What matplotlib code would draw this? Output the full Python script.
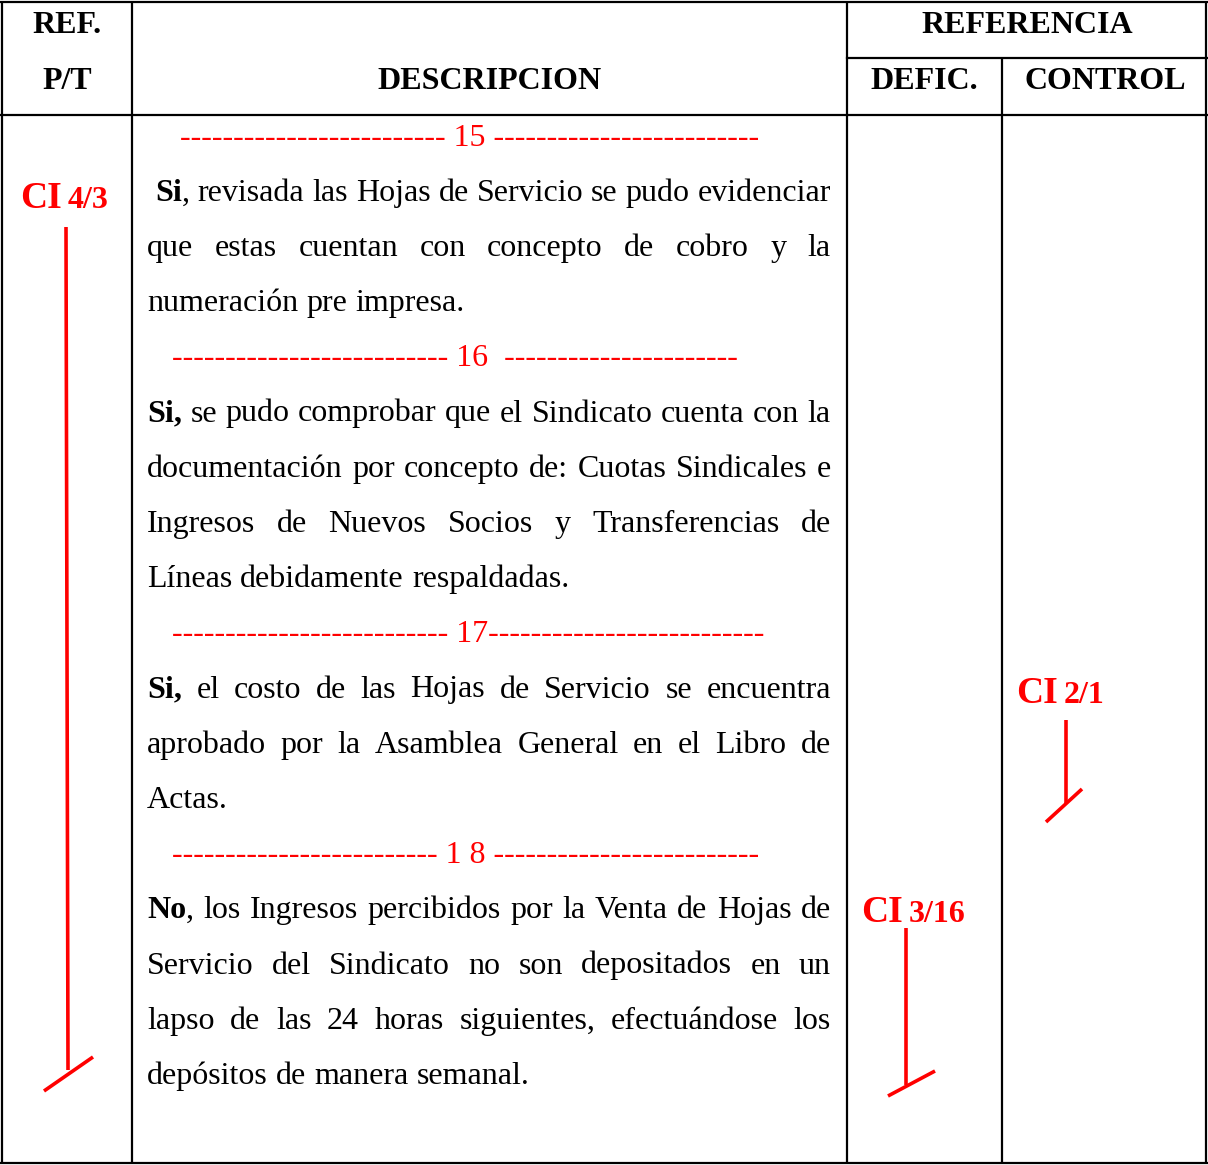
import matplotlib
matplotlib.use("Agg")
import matplotlib.pyplot as plt

W, H = 1208, 1165
FONT = "Liberation Serif"
RED = "#ff0000"
FS = 23

# ---- content ----
header_row1 = ["REF.", "REFERENCIA"]
header_row2 = ["P/T", "DESCRIPCION", "DEFIC.", "CONTROL"]

# kind: sep (red separator), just (justified), left (last line of paragraph)
body_kind = ["sep", "just", "just", "left",
             "sep", "just", "just", "just", "left",
             "sep", "just", "just", "left",
             "sep", "just", "just", "just", "left"]
body_text = [
    "------------------------- 15 -------------------------",
    "**Si**, revisada las Hojas de Servicio se pudo evidenciar",
    "que estas cuentan con concepto de cobro y la",
    "numeración pre impresa.",
    "-------------------------- 16  ----------------------",
    "**Si,** se pudo comprobar que el Sindicato cuenta con la",
    "documentación por concepto de: Cuotas Sindicales e",
    "Ingresos de Nuevos Socios y Transferencias de",
    "Líneas debidamente respaldadas.",
    "-------------------------- 17--------------------------",
    "**Si,** el costo de las Hojas de Servicio se encuentra",
    "aprobado por la Asamblea General en el Libro de",
    "Actas.",
    "------------------------- 1 8 -------------------------",
    "**No**, los Ingresos percibidos por la Venta de Hojas de",
    "Servicio del Sindicato no son depositados en un",
    "lapso de las 24 horas siguientes, efectuándose los",
    "depósitos de manera semanal.",
]
body_x = [180, 155, 147, 147, 172, 147, 147, 147, 147,
          172, 147, 147, 147, 172, 147, 147, 147, 147]

marks_big = ["CI", "CI", "CI"]
marks_small = ["4/3", "2/1", "3/16"]

# ---- layout ----
fig = plt.figure(figsize=(W / 100, H / 100), dpi=100)
ax = fig.add_axes([0, 0, 1, 1])
ax.set_xlim(0, W)
ax.set_ylim(H, 0)
ax.axis("off")

col_x = [2, 132, 847, 1002, 1206]
top, mid, hdr_bot, bot = 2, 58, 115, 1163
lw = 1.6
for x in col_x:
    if x == 1002:
        ax.plot([x, x], [mid, bot], color="black", lw=lw, solid_capstyle="butt")
    else:
        ax.plot([x, x], [top, bot], color="black", lw=lw, solid_capstyle="butt")
ax.plot([0, W], [top, top], color="black", lw=lw)
ax.plot([0, W], [bot, bot], color="black", lw=lw)
ax.plot([0, W], [hdr_bot, hdr_bot], color="black", lw=lw)
ax.plot([847, W], [mid, mid], color="black", lw=lw)

hkw = dict(fontfamily=FONT, fontsize=FS, fontweight="bold", ha="center",
           va="baseline", color="black")
ax.text(67, 33, header_row1[0], **hkw)
ax.text(1027, 33, header_row1[1], **hkw)
row2_x = [67, 490, 924, 1105]
for x, t in zip(row2_x, header_row2):
    ax.text(x, 89, t, **hkw)

fig.canvas.draw()
renderer = fig.canvas.get_renderer()


def parse_word(word):
    parts = word.split("**")
    pieces = []
    bold = False
    for i, p in enumerate(parts):
        if i > 0:
            bold = not bold
        if p:
            pieces.append((p, bold))
    return pieces


def text_width(s, bold):
    t = ax.text(0, 0, s, fontfamily=FONT, fontsize=FS,
                fontweight="bold" if bold else "normal")
    w = t.get_window_extent(renderer).width
    t.remove()
    return w


space_w = text_width("a b", False) - text_width("ab", False)
right_edge = 831
y0, step = 145.5, 55.2
for i, (kind, txt, x0) in enumerate(zip(body_kind, body_text, body_x)):
    y = y0 + i * step
    if kind == "sep":
        ax.text(x0, y, txt, fontfamily=FONT, fontsize=FS, color=RED,
                ha="left", va="baseline")
        continue
    words = [parse_word(w) for w in txt.split()]
    widths = [[text_width(p, b) for p, b in w] for w in words]
    totals = [sum(ws) for ws in widths]
    if kind == "just" and len(words) > 1:
        gap = (right_edge - x0 - sum(totals)) / (len(words) - 1)
    else:
        gap = space_w
    x = x0
    for w, ws, tot in zip(words, widths, totals):
        px = x
        for (p, b), pw in zip(w, ws):
            ax.text(px, y, p, fontfamily=FONT, fontsize=FS,
                    fontweight="bold" if b else "normal",
                    color="black", ha="left", va="baseline")
            px += pw
        x += tot + gap

# ---- red check marks ----
mark_pos = [(20, 208), (1016, 703), (861, 922)]
mark_lines = [
    [((66, 227), (68, 1070)), ((44, 1091), (93, 1057))],
    [((1066, 720), (1066, 803)), ((1046, 822), (1082, 789))],
    [((906, 928), (906, 1085)), ((888, 1096), (935, 1071))],
]
for (mx, my), big, small, segs in zip(mark_pos, marks_big, marks_small, mark_lines):
    t = ax.text(mx, my, big, fontfamily=FONT, fontsize=27, fontweight="bold",
                color=RED, ha="left", va="baseline")
    bw = t.get_window_extent(renderer).width
    ax.text(mx + bw + 6, my, small, fontfamily=FONT, fontsize=23,
            fontweight="bold", color=RED, ha="left", va="baseline")
    for (a, b) in segs:
        ax.plot([a[0], b[0]], [a[1], b[1]], color=RED, lw=2.6,
                solid_capstyle="butt")

fig.savefig("out.png", dpi=100)
